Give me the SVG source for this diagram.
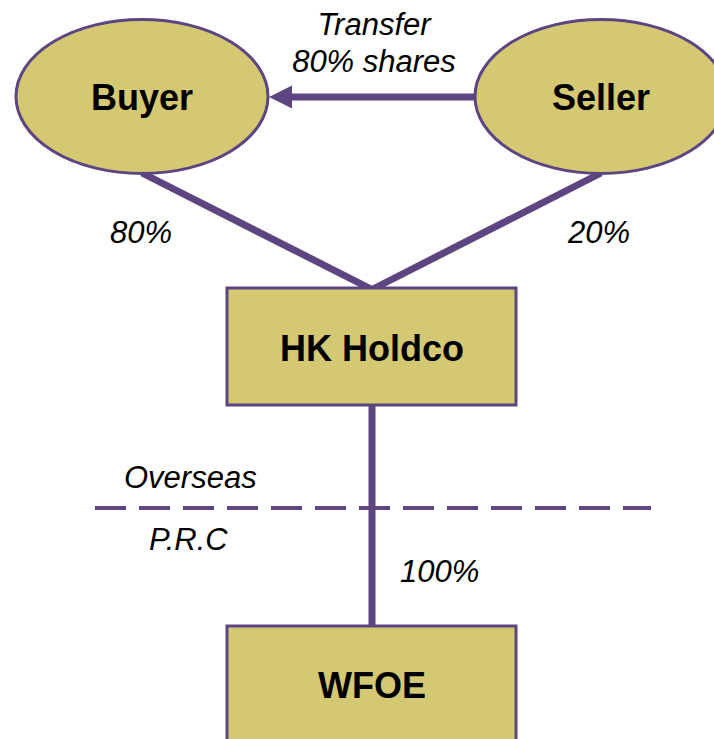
<svg xmlns="http://www.w3.org/2000/svg" width="714" height="739" viewBox="0 0 714 739">
<style>
.node{fill:#D4C873;stroke:#5C4580;stroke-width:3}
.conn{stroke:#5C4580;stroke-width:7;fill:none}
.lbl{font-family:"Liberation Sans",Arial,sans-serif;font-weight:bold;font-size:36px;fill:#000;text-anchor:middle}
.it{font-family:"Liberation Sans",Arial,sans-serif;font-style:italic;font-size:31px;fill:#000}
</style>
<rect width="714" height="739" fill="#fff"/>
<g id="connectors">
<line class="conn" x1="142" y1="173" x2="373" y2="290"/>
<line class="conn" x1="601" y1="173" x2="371" y2="290"/>
<line class="conn" x1="372" y1="405" x2="372" y2="626"/>
<line x1="95" y1="508" x2="651" y2="508" stroke="#5C4580" stroke-width="4" stroke-dasharray="31 13"/>
<line class="conn" x1="478" y1="97" x2="291" y2="97"/>
<path d="M269,97 L292,85.5 L292,108.5 Z" fill="#5C4580"/>
</g>
<g id="buyer">
<ellipse class="node" cx="142" cy="96.5" rx="126" ry="77"/>
<text class="lbl" x="142" y="110">Buyer</text>
</g>
<g id="seller">
<ellipse class="node" cx="601" cy="96.5" rx="126" ry="77"/>
<text class="lbl" x="601" y="110">Seller</text>
</g>
<g id="hkholdco">
<rect class="node" x="227" y="288" width="289" height="117"/>
<text class="lbl" x="372" y="361">HK Holdco</text>
</g>
<g id="wfoe">
<rect class="node" x="227" y="626" width="289" height="130"/>
<text class="lbl" x="372" y="698">WFOE</text>
</g>
<g id="labels">
<text class="it" x="374" y="35" text-anchor="middle">Transfer</text>
<text class="it" x="374" y="72" text-anchor="middle">80% shares</text>
<text class="it" x="110" y="243">80%</text>
<text class="it" x="568" y="243">20%</text>
<text class="it" x="124" y="488">Overseas</text>
<text class="it" x="149" y="550">P.R.C</text>
<text class="it" x="400" y="582">100%</text>
</g>
</svg>
